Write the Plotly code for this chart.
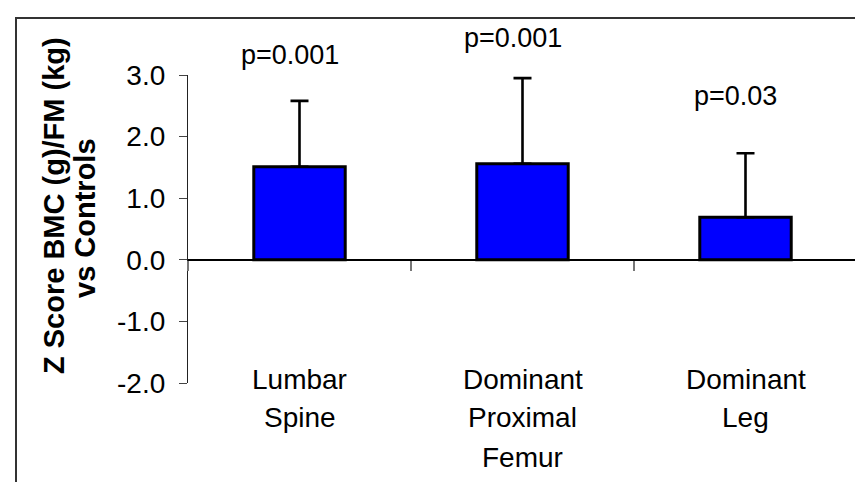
import plotly.graph_objects as go

# ---- data ----
categories = ["Lumbar<br>Spine", "Dominant<br>Proximal<br>Femur", "Dominant<br>Leg"]
z_scores = [1.51, 1.56, 0.69]
sd_upper = [1.07, 1.39, 1.04]
p_labels = ["p=0.001", "p=0.001", "p=0.03"]
y_ticks = [-2.0, -1.0, 0.0, 1.0, 2.0, 3.0]
y_tick_text = ["-2.0", "-1.0", "0.0", "1.0", "2.0", "3.0"]
y_title_lines = ["Z Score BMC (g)/FM (kg)", "vs Controls"]

x_pos = list(range(len(categories)))
boundaries = [i - 0.5 for i in x_pos] + [x_pos[-1] + 0.5]

W, H = 863, 482
ML, MR, MT, MB = 180, 14, 67, 107
pw, ph = W - ML - MR, H - MT - MB

def px_x(px):
    return (px - ML) / pw

def px_y(py):
    return (H - MB - py) / ph

ymin, ymax = y_ticks[0], y_ticks[-1]

fig = go.Figure()
fig.add_trace(go.Bar(
    x=x_pos, y=z_scores, width=0.41,
    marker=dict(color="#0000FF", line=dict(color="black", width=3)),
    error_y=dict(type="data", symmetric=False, array=sd_upper,
                 arrayminus=[0] * len(sd_upper),
                 color="black", thickness=2.6, width=9),
    showlegend=False, hoverinfo="skip",
))

FONT = "Liberation Sans, Arial, sans-serif"

annotations = []
# p-value labels (vertical centre of each label, in pixels from top)
p_label_px = [47, 30, 88]
for i, (t, py) in enumerate(zip(p_labels, p_label_px)):
    annotations.append(dict(x=i, y=px_y(py), xref="x", yref="paper", text=t, showarrow=False,
                            xshift=-10, font=dict(family=FONT, size=27, color="black"),
                            xanchor="center", yanchor="middle"))
# category labels, one annotation per line for tight Excel-like line spacing
first_line_px, line_step = 371, 39
for i, c in enumerate(categories):
    for k, line in enumerate(c.split("<br>")):
        annotations.append(dict(x=i, y=px_y(first_line_px + k * line_step), xref="x", yref="paper",
                                text=line, showarrow=False,
                                font=dict(family=FONT, size=28, color="black"),
                                xanchor="center", yanchor="middle"))
title_pos = [(46, 198), (77, 210)]
for (tx, ty), line in zip(title_pos, y_title_lines):
    annotations.append(dict(x=px_x(tx), y=px_y(ty), xref="paper", yref="paper",
                            text="<b>" + line + "</b>", showarrow=False, textangle=-90,
                            font=dict(family=FONT, size=29, color="black"),
                            xanchor="center", yanchor="middle"))

fig.update_layout(
    width=W, height=H,
    margin=dict(l=ML, r=MR, t=MT, b=MB, pad=0),
    paper_bgcolor="white", plot_bgcolor="white",
    xaxis=dict(range=[boundaries[0], boundaries[-1]], anchor="free",
               position=(0 - ymin) / (ymax - ymin),
               showline=True, linecolor="black", linewidth=1.5,
               ticks="outside", tickvals=boundaries, ticklen=10, tickwidth=1.5,
               tickcolor="#777777", showticklabels=False,
               showgrid=False, zeroline=False),
    yaxis=dict(range=[ymin, ymax], tickvals=y_ticks, ticktext=y_tick_text,
               showline=True, linecolor="#222222", linewidth=1.2,
               ticks="outside", ticklen=8, tickwidth=1.2, tickcolor="#444444",
               tickfont=dict(family=FONT, size=28, color="black"),
               ticklabelstandoff=8,
               showgrid=False, zeroline=False),
    annotations=annotations,
    shapes=[dict(type="rect", xref="paper", yref="paper",
                 x0=px_x(8), x1=px_x(880), y0=px_y(500), y1=px_y(10),
                 line=dict(color="#333333", width=2), layer="below")],
)

fig.write_html("out.html")
